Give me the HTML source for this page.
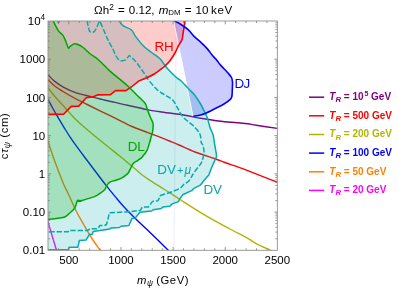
<!DOCTYPE html>
<html><head><meta charset="utf-8"><style>
html,body{margin:0;padding:0;background:#fff}
body{width:399px;height:288px;position:relative;overflow:hidden;font-family:"Liberation Sans",sans-serif;}
</style></head><body>
<svg width="399" height="288" viewBox="0 0 399 288" style="position:absolute;left:0;top:0">
<defs><clipPath id="c"><rect x="48.00" y="21.00" width="229.35" height="229.30"/></clipPath></defs>
<g clip-path="url(#c)" fill="none" stroke-linejoin="round" stroke-linecap="butt">
<line x1="176.2" y1="21.00" x2="173.9" y2="250.30" stroke="#a0a0dc" stroke-opacity="0.16" stroke-width="1.3"/>
<path d="M47.50 74.30 C48.65 75.43 51.69 78.93 54.40 81.10 C57.11 83.27 60.11 85.35 63.75 87.30 C67.39 89.25 71.56 91.20 76.25 92.80 C80.94 94.40 87.11 95.67 91.90 96.90 C96.69 98.13 101.15 99.28 105.00 100.20 C108.85 101.12 111.25 101.55 115.00 102.40 C118.75 103.25 123.33 104.37 127.50 105.30 C131.67 106.23 136.77 107.28 140.00 108.00 C143.23 108.72 143.57 108.98 146.90 109.60 C150.23 110.22 153.65 110.75 160.00 111.70 C166.35 112.65 178.23 114.20 185.00 115.30 C191.77 116.40 195.39 117.40 200.60 118.30 C205.81 119.20 211.03 120.03 216.25 120.70 C221.47 121.37 227.06 121.83 231.90 122.30 C236.74 122.77 241.24 123.02 245.30 123.50 C249.36 123.98 250.92 124.38 256.25 125.20 C261.58 126.02 273.79 127.87 277.30 128.40" stroke="#800080" stroke-width="1.4"/>
<path d="M47.50 79.30 C48.65 80.38 51.69 83.68 54.40 85.80 C57.11 87.92 60.11 89.80 63.75 92.00 C67.39 94.20 72.34 96.92 76.25 99.00 C80.16 101.08 83.24 102.53 87.20 104.50 C91.16 106.47 95.27 108.48 100.00 110.80 C104.73 113.12 110.39 115.83 115.60 118.40 C120.81 120.98 126.35 124.07 131.25 126.25 C136.15 128.43 141.61 130.21 145.00 131.50 C148.39 132.79 149.10 133.05 151.60 134.00 C154.10 134.95 156.93 135.99 160.00 137.20 C163.07 138.41 166.83 139.95 170.00 141.25 C173.17 142.55 174.83 143.21 179.00 145.00 C183.17 146.79 189.00 149.71 195.00 152.00 C201.00 154.29 210.00 157.00 215.00 158.75 C220.00 160.50 219.67 160.57 225.00 162.50 C230.33 164.43 238.28 167.00 247.00 170.30 C255.72 173.60 272.25 180.30 277.30 182.30" stroke="#ff0000" stroke-width="1.4"/>
<path d="M47.50 87.00 C48.65 88.50 51.95 93.08 54.40 96.00 C56.85 98.92 59.85 101.92 62.20 104.50 C64.55 107.08 66.37 109.13 68.50 111.50 C70.63 113.87 72.25 115.98 75.00 118.70 C77.75 121.42 81.25 124.53 85.00 127.80 C88.75 131.07 93.50 135.02 97.50 138.30 C101.50 141.58 105.25 144.50 109.00 147.50 C112.75 150.50 115.67 152.76 120.00 156.30 C124.33 159.84 131.30 165.63 135.00 168.75 C138.70 171.87 139.70 173.07 142.20 175.00 C144.70 176.93 147.03 178.35 150.00 180.30 C152.97 182.25 156.67 184.60 160.00 186.70 C163.33 188.80 166.67 190.77 170.00 192.90 C173.33 195.03 174.05 195.72 180.00 199.50 C185.95 203.28 197.37 210.68 205.70 215.60 C214.03 220.52 223.05 225.23 230.00 229.00 C236.95 232.77 242.73 235.60 247.40 238.20 C252.07 240.80 254.28 242.67 258.00 244.60 C261.72 246.53 267.37 248.73 269.70 249.80 C272.03 250.87 271.62 250.80 272.00 251.00" stroke="#b3b300" stroke-width="1.4"/>
<path d="M47.50 98.70 C48.08 99.75 49.54 102.38 51.00 105.00 C52.46 107.62 54.33 111.08 56.25 114.40 C58.17 117.72 60.94 122.30 62.50 124.90 C64.06 127.50 64.30 127.93 65.60 130.00 C66.90 132.07 68.70 134.90 70.30 137.30 C71.90 139.70 73.43 141.92 75.20 144.40 C76.97 146.88 79.03 149.68 80.90 152.20 C82.77 154.72 84.57 157.08 86.40 159.50 C88.23 161.92 88.72 162.52 91.90 166.70 C95.08 170.88 101.55 179.53 105.50 184.60 C109.45 189.67 112.50 193.37 115.60 197.10 C118.70 200.83 120.85 203.48 124.10 207.00 C127.35 210.52 130.47 213.65 135.10 218.20 C139.73 222.75 146.42 229.00 151.90 234.30 C157.38 239.60 164.98 247.05 168.00 250.00 C171.02 252.95 169.67 251.67 170.00 252.00" stroke="#0000ff" stroke-width="1.4"/>
<path d="M47.50 139.60 C48.08 141.42 49.85 147.05 51.00 150.50 C52.15 153.95 53.07 156.63 54.40 160.30 C55.73 163.97 57.44 168.47 59.00 172.50 C60.56 176.53 62.18 180.92 63.75 184.50 C65.32 188.08 66.32 189.54 68.40 194.00 C70.48 198.46 73.65 206.08 76.25 211.25 C78.85 216.42 81.38 220.46 84.00 225.00 C86.62 229.54 89.33 234.30 92.00 238.50 C94.67 242.70 98.50 248.00 100.00 250.20 C101.50 252.40 100.83 251.45 101.00 251.70" stroke="#ff8000" stroke-width="1.4"/>
<path d="M47.50 220.50 C49.00 225.45 55.00 245.25 56.50 250.20" stroke="#ff00ff" stroke-width="1.4"/>
<path d="M118.75 20.50 C119.53 21.40 121.32 24.35 123.40 25.90 C125.48 27.45 129.17 27.97 131.25 29.80 C133.33 31.63 133.82 34.16 135.90 36.90 C137.98 39.64 141.13 43.65 143.75 46.25 C146.37 48.85 148.89 50.42 151.60 52.50 C154.31 54.58 157.97 56.88 160.00 58.75 C162.03 60.62 162.53 62.08 163.80 63.75 C165.07 65.42 165.50 66.46 167.60 68.75 C169.70 71.04 174.33 75.62 176.40 77.50 C178.47 79.38 178.36 78.54 180.00 80.00 C181.64 81.46 184.63 84.58 186.25 86.25 C187.87 87.92 188.34 88.59 189.70 90.00 C191.06 91.41 192.58 92.37 194.40 94.70 C196.22 97.03 198.78 100.88 200.60 104.00 C202.42 107.12 204.12 110.90 205.30 113.40 C206.48 115.90 206.92 116.65 207.70 119.00 C208.48 121.35 209.10 124.83 210.00 127.50 C210.90 130.17 212.31 132.08 213.10 135.00 C213.89 137.92 214.27 142.17 214.75 145.00 C215.23 147.83 215.71 150.12 216.00 152.00 C216.29 153.88 216.67 154.92 216.50 156.25 C216.33 157.58 215.62 158.54 215.00 160.00 C214.38 161.46 213.50 163.25 212.75 165.00 C212.00 166.75 211.14 168.83 210.50 170.50 C209.86 172.17 209.17 174.25 208.90 175.00 L207.30 176.60 L203.40 181.25 L200.30 185.20 L194.00 188.30 L191.70 190.60 L183.10 194.50 L180.00 198.40 L178.40 201.60 L172.20 203.90 L169.80 206.25 L162.80 207.00 L161.25 208.60 L155.00 209.40 L153.90 209.40 L151.60 211.00 L139.80 212.20 L135.20 218.10 L132.00 218.40 L128.90 225.50 L121.10 226.25 L119.50 227.50 L110.90 228.10 L109.40 229.10 L105.00 229.80 L99.70 230.60 L93.40 231.40 L92.00 234.50 L89.50 234.50 L86.00 240.00 L79.40 240.50 L77.80 247.30 L69.20 247.30 L68.40 249.70 L47.50 249.70 L46.00 252.30 L46.00 19.00 Z" fill="rgba(0,170,170,0.2)"/>
<path d="M47.50 114.40 L63.60 114.30 L71.25 106.40 L78.75 106.10 L86.25 97.80 L93.75 96.60 L97.50 94.90 L110.20 94.80 L115.60 90.60 L125.80 90.60 L131.25 87.00 L139.00 80.80  C140.32 80.28 144.28 78.88 146.90 77.70 C149.52 76.53 152.52 75.07 154.70 73.75 C156.88 72.43 158.28 71.09 160.00 69.80 C161.72 68.51 163.25 67.63 165.00 66.00 C166.75 64.37 168.80 62.25 170.50 60.00 C172.20 57.75 173.78 55.05 175.20 52.50 C176.62 49.95 177.88 46.78 179.00 44.70 C180.12 42.62 181.23 41.83 181.90 40.00 C182.57 38.17 182.48 36.88 183.00 33.75 C183.52 30.62 184.65 23.54 185.00 21.25 C185.35 18.96 185.08 20.21 185.10 20.00 L185.00 19.00 L46.00 19.00 Z" fill="rgba(255,0,0,0.2)"/>
<path d="M53.00 20.50 C53.88 22.18 56.63 28.13 58.30 30.60 C59.97 33.07 61.72 33.40 63.00 35.30 C64.28 37.20 65.10 39.87 66.00 42.00 C66.90 44.13 67.73 47.35 68.40 48.10 C69.07 48.85 69.08 47.20 70.00 46.50 C70.92 45.80 72.73 44.28 73.90 43.90 C75.07 43.52 75.57 43.68 77.00 44.20 C78.43 44.72 80.28 45.37 82.50 47.00 C84.72 48.63 87.70 51.92 90.30 54.00 C92.90 56.08 94.92 56.73 98.10 59.50 C101.28 62.27 105.96 67.45 109.40 70.60 C112.84 73.75 115.63 75.79 118.75 78.40 C121.87 81.01 125.11 83.48 128.10 86.25 C131.09 89.02 134.63 92.96 136.70 95.00 C138.77 97.04 139.07 97.07 140.50 98.50 C141.93 99.93 144.10 101.58 145.30 103.60 C146.50 105.62 146.83 108.28 147.70 110.60 C148.57 112.92 149.60 115.27 150.50 117.50 C151.40 119.73 152.77 121.58 153.10 124.00 C153.43 126.42 152.88 129.67 152.50 132.00 C152.12 134.33 151.22 136.46 150.80 138.00 C150.38 139.54 150.65 139.15 150.00 141.25 C149.35 143.35 148.20 147.99 146.90 150.60 C145.60 153.21 143.68 155.28 142.20 156.90 C140.72 158.52 139.43 159.27 138.00 160.30 C136.57 161.33 134.85 161.72 133.60 163.10 C132.35 164.48 131.42 166.90 130.50 168.60 C129.58 170.30 129.02 172.10 128.10 173.30 C127.18 174.50 126.03 175.03 125.00 175.80 C123.97 176.57 122.94 177.32 121.90 177.90 C120.86 178.48 119.93 178.87 118.75 179.30 C117.57 179.73 116.11 180.12 114.80 180.50 C113.49 180.88 111.95 181.15 110.90 181.60 C109.85 182.05 109.32 182.30 108.50 183.20 C107.68 184.10 106.63 185.90 106.00 187.00 C105.37 188.10 105.70 188.73 104.70 189.80 C103.70 190.87 101.62 192.30 100.00 193.40 C98.38 194.50 97.92 195.25 95.00 196.40 C92.08 197.55 84.83 199.48 82.50 200.30 C80.17 201.12 81.37 201.28 81.00 201.30 C80.63 201.32 80.52 200.37 80.30 200.40 C80.08 200.43 79.92 201.52 79.70 201.50 C79.48 201.48 79.22 200.30 79.00 200.30 C78.78 200.30 78.60 201.52 78.40 201.50 C78.20 201.48 78.03 200.23 77.80 200.20 C77.57 200.17 77.52 199.98 77.00 201.30 C76.48 202.62 75.87 206.18 74.70 208.10 C73.53 210.02 71.57 211.37 70.00 212.80 C68.43 214.23 67.38 215.78 65.30 216.70 C63.22 217.62 60.47 217.83 57.50 218.30 C54.53 218.77 49.17 219.30 47.50 219.50 L46.00 219.50 L46.00 19.00 Z" fill="rgba(0,170,0,0.2)"/>
<path d="M173.80 20.50 C175.00 21.17 178.57 22.95 181.00 24.50 C183.43 26.05 186.25 27.87 188.40 29.80 C190.55 31.73 191.82 34.02 193.90 36.10 C195.98 38.18 198.68 40.22 200.90 42.30 C203.12 44.38 205.37 46.52 207.20 48.60 C209.03 50.68 210.33 52.90 211.90 54.80 C213.47 56.70 215.25 58.38 216.60 60.00 C217.95 61.62 218.81 63.08 220.00 64.50 C221.19 65.92 222.42 67.08 223.75 68.50 C225.08 69.92 226.71 71.50 228.00 73.00 C229.29 74.50 230.75 76.00 231.50 77.50 C232.25 79.00 232.37 79.92 232.50 82.00 C232.63 84.08 232.40 87.62 232.30 90.00 C232.20 92.38 232.23 94.68 231.90 96.25 C231.57 97.82 231.62 98.11 230.30 99.40 C228.98 100.69 226.34 102.57 224.00 104.00 C221.66 105.43 219.10 106.55 216.25 108.00 C213.40 109.45 209.51 111.53 206.90 112.70 C204.29 113.87 202.87 114.41 200.60 115.00 C198.33 115.59 194.52 116.04 193.30 116.25 Z" fill="rgba(0,0,255,0.2)"/>
<line x1="173.5" y1="20.5" x2="193.0" y2="116.25" stroke="#fff" stroke-width="0.8" stroke-opacity="0.9"/>
<path d="M118.75 20.50 C119.53 21.40 121.32 24.35 123.40 25.90 C125.48 27.45 129.17 27.97 131.25 29.80 C133.33 31.63 133.82 34.16 135.90 36.90 C137.98 39.64 141.13 43.65 143.75 46.25 C146.37 48.85 148.89 50.42 151.60 52.50 C154.31 54.58 157.97 56.88 160.00 58.75 C162.03 60.62 162.53 62.08 163.80 63.75 C165.07 65.42 165.50 66.46 167.60 68.75 C169.70 71.04 174.33 75.62 176.40 77.50 C178.47 79.38 178.36 78.54 180.00 80.00 C181.64 81.46 184.63 84.58 186.25 86.25 C187.87 87.92 188.34 88.59 189.70 90.00 C191.06 91.41 192.58 92.37 194.40 94.70 C196.22 97.03 198.78 100.88 200.60 104.00 C202.42 107.12 204.12 110.90 205.30 113.40 C206.48 115.90 206.92 116.65 207.70 119.00 C208.48 121.35 209.10 124.83 210.00 127.50 C210.90 130.17 212.31 132.08 213.10 135.00 C213.89 137.92 214.27 142.17 214.75 145.00 C215.23 147.83 215.71 150.12 216.00 152.00 C216.29 153.88 216.67 154.92 216.50 156.25 C216.33 157.58 215.62 158.54 215.00 160.00 C214.38 161.46 213.50 163.25 212.75 165.00 C212.00 166.75 211.14 168.83 210.50 170.50 C209.86 172.17 209.17 174.25 208.90 175.00 L207.30 176.60 L203.40 181.25 L200.30 185.20 L194.00 188.30 L191.70 190.60 L183.10 194.50 L180.00 198.40 L178.40 201.60 L172.20 203.90 L169.80 206.25 L162.80 207.00 L161.25 208.60 L155.00 209.40 L153.90 209.40 L151.60 211.00 L139.80 212.20 L135.20 218.10 L132.00 218.40 L128.90 225.50 L121.10 226.25 L119.50 227.50 L110.90 228.10 L109.40 229.10 L105.00 229.80 L99.70 230.60 L93.40 231.40 L92.00 234.50 L89.50 234.50 L86.00 240.00 L79.40 240.50 L77.80 247.30 L69.20 247.30 L68.40 249.70 L47.50 249.70" stroke="#07aaaa" stroke-width="1.5"/>
<path d="M87.00 20.50 C87.38 22.17 88.58 28.58 89.25 30.50 C89.92 32.42 90.25 31.75 91.00 32.00 C91.75 32.25 92.92 32.50 93.75 32.00 C94.58 31.50 95.04 30.75 96.00 29.00 C96.96 27.25 98.68 22.40 99.50 21.50 C100.32 20.60 99.93 21.55 100.90 23.60 C101.87 25.65 103.97 30.75 105.30 33.80 C106.63 36.85 107.68 39.47 108.90 41.90 C110.12 44.33 111.50 46.22 112.60 48.40 C113.70 50.58 114.53 53.17 115.50 55.00 C116.47 56.83 117.43 58.43 118.40 59.40 C119.37 60.37 120.20 60.68 121.30 60.80 C122.40 60.92 123.88 60.70 125.00 60.10 C126.12 59.50 127.25 57.93 128.00 57.20 C128.75 56.47 128.54 55.32 129.50 55.70 C130.46 56.08 132.42 58.16 133.75 59.50 C135.08 60.84 135.42 60.96 137.50 63.75 C139.58 66.54 144.25 73.33 146.25 76.25 C148.25 79.17 147.62 78.96 149.50 81.25 C151.38 83.54 154.92 87.71 157.50 90.00 C160.08 92.29 162.48 93.33 165.00 95.00 C167.52 96.67 170.60 98.00 172.60 100.00 C174.60 102.00 175.77 104.92 177.00 107.00 C178.23 109.08 178.67 110.50 180.00 112.50 C181.33 114.50 182.87 116.88 185.00 119.00 C187.13 121.12 190.33 122.74 192.80 125.20 C195.27 127.66 198.39 130.87 199.80 133.75 C201.21 136.63 200.76 140.62 201.25 142.50 C201.74 144.38 202.29 143.33 202.75 145.00 C203.21 146.67 204.21 149.58 204.00 152.50 C203.79 155.42 202.67 159.83 201.50 162.50 C200.33 165.17 198.50 166.42 197.00 168.50 C195.50 170.58 193.38 173.65 192.50 175.00 C191.62 176.35 192.35 175.56 191.70 176.60 C191.05 177.64 189.90 179.95 188.60 181.25 C187.30 182.55 185.33 183.22 183.90 184.40 C182.47 185.58 182.22 187.00 180.00 188.30 C177.78 189.60 173.72 191.03 170.60 192.20 C167.47 193.37 163.02 194.52 161.25 195.30 C159.48 196.08 160.21 196.63 160.00 196.90 L157.80 200.80 L152.30 201.60 L148.40 207.00 L142.20 207.00 L140.60 210.20 L129.70 211.70 L109.40 212.80 L107.80 220.00 L106.50 224.50 L105.00 225.20 L99.70 225.60 L98.10 228.75 L90.30 228.75 L87.20 230.60 L68.60 230.60 L68.40 231.70 L47.50 231.70" stroke="#07aaaa" stroke-width="1.5" stroke-dasharray="5.4 1.9"/>
<path d="M57 19 L58.5 23 L60 19" stroke="#07aaaa" stroke-width="1.5"/>
<path d="M47.50 114.40 L63.60 114.30 L71.25 106.40 L78.75 106.10 L86.25 97.80 L93.75 96.60 L97.50 94.90 L110.20 94.80 L115.60 90.60 L125.80 90.60 L131.25 87.00 L139.00 80.80  C140.32 80.28 144.28 78.88 146.90 77.70 C149.52 76.53 152.52 75.07 154.70 73.75 C156.88 72.43 158.28 71.09 160.00 69.80 C161.72 68.51 163.25 67.63 165.00 66.00 C166.75 64.37 168.80 62.25 170.50 60.00 C172.20 57.75 173.78 55.05 175.20 52.50 C176.62 49.95 177.88 46.78 179.00 44.70 C180.12 42.62 181.23 41.83 181.90 40.00 C182.57 38.17 182.48 36.88 183.00 33.75 C183.52 30.62 184.65 23.54 185.00 21.25 C185.35 18.96 185.08 20.21 185.10 20.00" stroke="#ff0000" stroke-width="1.6"/>
<path d="M53.00 20.50 C53.88 22.18 56.63 28.13 58.30 30.60 C59.97 33.07 61.72 33.40 63.00 35.30 C64.28 37.20 65.10 39.87 66.00 42.00 C66.90 44.13 67.73 47.35 68.40 48.10 C69.07 48.85 69.08 47.20 70.00 46.50 C70.92 45.80 72.73 44.28 73.90 43.90 C75.07 43.52 75.57 43.68 77.00 44.20 C78.43 44.72 80.28 45.37 82.50 47.00 C84.72 48.63 87.70 51.92 90.30 54.00 C92.90 56.08 94.92 56.73 98.10 59.50 C101.28 62.27 105.96 67.45 109.40 70.60 C112.84 73.75 115.63 75.79 118.75 78.40 C121.87 81.01 125.11 83.48 128.10 86.25 C131.09 89.02 134.63 92.96 136.70 95.00 C138.77 97.04 139.07 97.07 140.50 98.50 C141.93 99.93 144.10 101.58 145.30 103.60 C146.50 105.62 146.83 108.28 147.70 110.60 C148.57 112.92 149.60 115.27 150.50 117.50 C151.40 119.73 152.77 121.58 153.10 124.00 C153.43 126.42 152.88 129.67 152.50 132.00 C152.12 134.33 151.22 136.46 150.80 138.00 C150.38 139.54 150.65 139.15 150.00 141.25 C149.35 143.35 148.20 147.99 146.90 150.60 C145.60 153.21 143.68 155.28 142.20 156.90 C140.72 158.52 139.43 159.27 138.00 160.30 C136.57 161.33 134.85 161.72 133.60 163.10 C132.35 164.48 131.42 166.90 130.50 168.60 C129.58 170.30 129.02 172.10 128.10 173.30 C127.18 174.50 126.03 175.03 125.00 175.80 C123.97 176.57 122.94 177.32 121.90 177.90 C120.86 178.48 119.93 178.87 118.75 179.30 C117.57 179.73 116.11 180.12 114.80 180.50 C113.49 180.88 111.95 181.15 110.90 181.60 C109.85 182.05 109.32 182.30 108.50 183.20 C107.68 184.10 106.63 185.90 106.00 187.00 C105.37 188.10 105.70 188.73 104.70 189.80 C103.70 190.87 101.62 192.30 100.00 193.40 C98.38 194.50 97.92 195.25 95.00 196.40 C92.08 197.55 84.83 199.48 82.50 200.30 C80.17 201.12 81.37 201.28 81.00 201.30 C80.63 201.32 80.52 200.37 80.30 200.40 C80.08 200.43 79.92 201.52 79.70 201.50 C79.48 201.48 79.22 200.30 79.00 200.30 C78.78 200.30 78.60 201.52 78.40 201.50 C78.20 201.48 78.03 200.23 77.80 200.20 C77.57 200.17 77.52 199.98 77.00 201.30 C76.48 202.62 75.87 206.18 74.70 208.10 C73.53 210.02 71.57 211.37 70.00 212.80 C68.43 214.23 67.38 215.78 65.30 216.70 C63.22 217.62 60.47 217.83 57.50 218.30 C54.53 218.77 49.17 219.30 47.50 219.50" stroke="#00a600" stroke-width="1.5"/>
<path d="M173.80 20.50 C175.00 21.17 178.57 22.95 181.00 24.50 C183.43 26.05 186.25 27.87 188.40 29.80 C190.55 31.73 191.82 34.02 193.90 36.10 C195.98 38.18 198.68 40.22 200.90 42.30 C203.12 44.38 205.37 46.52 207.20 48.60 C209.03 50.68 210.33 52.90 211.90 54.80 C213.47 56.70 215.25 58.38 216.60 60.00 C217.95 61.62 218.81 63.08 220.00 64.50 C221.19 65.92 222.42 67.08 223.75 68.50 C225.08 69.92 226.71 71.50 228.00 73.00 C229.29 74.50 230.75 76.00 231.50 77.50 C232.25 79.00 232.37 79.92 232.50 82.00 C232.63 84.08 232.40 87.62 232.30 90.00 C232.20 92.38 232.23 94.68 231.90 96.25 C231.57 97.82 231.62 98.11 230.30 99.40 C228.98 100.69 226.34 102.57 224.00 104.00 C221.66 105.43 219.10 106.55 216.25 108.00 C213.40 109.45 209.51 111.53 206.90 112.70 C204.29 113.87 202.87 114.41 200.60 115.00 C198.33 115.59 194.52 116.04 193.30 116.25" stroke="#0000ff" stroke-width="1.6"/>
</g>
<path d="M58.43 250.30 v-2.00 M58.43 21.00 v2.00 M68.85 250.30 v-3.30 M68.85 21.00 v3.30 M79.28 250.30 v-2.00 M79.28 21.00 v2.00 M89.70 250.30 v-2.00 M89.70 21.00 v2.00 M100.12 250.30 v-2.00 M100.12 21.00 v2.00 M110.55 250.30 v-2.00 M110.55 21.00 v2.00 M120.98 250.30 v-3.30 M120.98 21.00 v3.30 M131.40 250.30 v-2.00 M131.40 21.00 v2.00 M141.83 250.30 v-2.00 M141.83 21.00 v2.00 M152.25 250.30 v-2.00 M152.25 21.00 v2.00 M162.68 250.30 v-2.00 M162.68 21.00 v2.00 M173.10 250.30 v-3.30 M173.10 21.00 v3.30 M183.53 250.30 v-2.00 M183.53 21.00 v2.00 M193.95 250.30 v-2.00 M193.95 21.00 v2.00 M204.38 250.30 v-2.00 M204.38 21.00 v2.00 M214.80 250.30 v-2.00 M214.80 21.00 v2.00 M225.23 250.30 v-3.30 M225.23 21.00 v3.30 M235.65 250.30 v-2.00 M235.65 21.00 v2.00 M246.08 250.30 v-2.00 M246.08 21.00 v2.00 M256.50 250.30 v-2.00 M256.50 21.00 v2.00 M266.93 250.30 v-2.00 M266.93 21.00 v2.00 M48.00 238.80 h1.90 M277.35 238.80 h-1.90 M48.00 232.07 h1.90 M277.35 232.07 h-1.90 M48.00 227.29 h1.90 M277.35 227.29 h-1.90 M48.00 223.59 h1.90 M277.35 223.59 h-1.90 M48.00 220.56 h1.90 M277.35 220.56 h-1.90 M48.00 218.00 h1.90 M277.35 218.00 h-1.90 M48.00 215.79 h1.90 M277.35 215.79 h-1.90 M48.00 213.83 h1.90 M277.35 213.83 h-1.90 M48.00 212.08 h3.00 M277.35 212.08 h-3.00 M48.00 200.58 h1.90 M277.35 200.58 h-1.90 M48.00 193.85 h1.90 M277.35 193.85 h-1.90 M48.00 189.07 h1.90 M277.35 189.07 h-1.90 M48.00 185.37 h1.90 M277.35 185.37 h-1.90 M48.00 182.34 h1.90 M277.35 182.34 h-1.90 M48.00 179.79 h1.90 M277.35 179.79 h-1.90 M48.00 177.57 h1.90 M277.35 177.57 h-1.90 M48.00 175.62 h1.90 M277.35 175.62 h-1.90 M48.00 173.87 h3.00 M277.35 173.87 h-3.00 M48.00 162.36 h1.90 M277.35 162.36 h-1.90 M48.00 155.63 h1.90 M277.35 155.63 h-1.90 M48.00 150.86 h1.90 M277.35 150.86 h-1.90 M48.00 147.15 h1.90 M277.35 147.15 h-1.90 M48.00 144.13 h1.90 M277.35 144.13 h-1.90 M48.00 141.57 h1.90 M277.35 141.57 h-1.90 M48.00 139.35 h1.90 M277.35 139.35 h-1.90 M48.00 137.40 h1.90 M277.35 137.40 h-1.90 M48.00 135.65 h3.00 M277.35 135.65 h-3.00 M48.00 124.15 h1.90 M277.35 124.15 h-1.90 M48.00 117.42 h1.90 M277.35 117.42 h-1.90 M48.00 112.64 h1.90 M277.35 112.64 h-1.90 M48.00 108.94 h1.90 M277.35 108.94 h-1.90 M48.00 105.91 h1.90 M277.35 105.91 h-1.90 M48.00 103.35 h1.90 M277.35 103.35 h-1.90 M48.00 101.14 h1.90 M277.35 101.14 h-1.90 M48.00 99.18 h1.90 M277.35 99.18 h-1.90 M48.00 97.43 h3.00 M277.35 97.43 h-3.00 M48.00 85.93 h1.90 M277.35 85.93 h-1.90 M48.00 79.20 h1.90 M277.35 79.20 h-1.90 M48.00 74.42 h1.90 M277.35 74.42 h-1.90 M48.00 70.72 h1.90 M277.35 70.72 h-1.90 M48.00 67.69 h1.90 M277.35 67.69 h-1.90 M48.00 65.14 h1.90 M277.35 65.14 h-1.90 M48.00 62.92 h1.90 M277.35 62.92 h-1.90 M48.00 60.97 h1.90 M277.35 60.97 h-1.90 M48.00 59.22 h3.00 M277.35 59.22 h-3.00 M48.00 47.71 h1.90 M277.35 47.71 h-1.90 M48.00 40.98 h1.90 M277.35 40.98 h-1.90 M48.00 36.21 h1.90 M277.35 36.21 h-1.90 M48.00 32.50 h1.90 M277.35 32.50 h-1.90 M48.00 29.48 h1.90 M277.35 29.48 h-1.90 M48.00 26.92 h1.90 M277.35 26.92 h-1.90 M48.00 24.70 h1.90 M277.35 24.70 h-1.90 M48.00 22.75 h1.90 M277.35 22.75 h-1.90" stroke="#7c7c7c" stroke-width="0.8" fill="none"/>
<rect x="48.00" y="21.00" width="229.35" height="229.30" fill="none" stroke="#909090" stroke-width="0.9"/>
<line x1="309" y1="97.20" x2="324.2" y2="97.20" stroke="#800080" stroke-width="1.5"/>
<line x1="309" y1="115.80" x2="324.2" y2="115.80" stroke="#ff0000" stroke-width="1.5"/>
<line x1="309" y1="134.50" x2="324.2" y2="134.50" stroke="#b3b300" stroke-width="1.5"/>
<line x1="309" y1="153.10" x2="324.2" y2="153.10" stroke="#0000ff" stroke-width="1.5"/>
<line x1="309" y1="171.80" x2="324.2" y2="171.80" stroke="#ff8000" stroke-width="1.5"/>
<line x1="309" y1="190.40" x2="324.2" y2="190.40" stroke="#ff00ff" stroke-width="1.5"/>
</svg>
<div style="position:absolute;left:0;top:0;width:399px;height:288px;will-change:transform"><div style="position:absolute;white-space:nowrap;line-height:1;font-size:11.6px;color:#000;word-spacing:0.9px;left:94.00px;top:3.78px;">&Omega;h<span style="font-size:72%;position:relative;top:-0.5em;line-height:0">2</span> = 0.12, <i>m</i><span style="font-size:68%;position:relative;top:0.2em;line-height:0">DM</span> = 10<span style="margin-left:-1.6px"> </span><span style="letter-spacing:0.55px">keV</span></div>
<div style="position:absolute;white-space:nowrap;line-height:1;font-size:11.5px;color:#000;right:353.80px;top:16.07px;">10<span style="font-size:72%;position:relative;top:-0.6em;line-height:0">4</span></div>
<div style="position:absolute;white-space:nowrap;line-height:1;font-size:11.5px;color:#000;right:353.80px;top:54.28px;">1000</div>
<div style="position:absolute;white-space:nowrap;line-height:1;font-size:11.5px;color:#000;right:353.80px;top:92.50px;">100</div>
<div style="position:absolute;white-space:nowrap;line-height:1;font-size:11.5px;color:#000;right:353.80px;top:130.72px;">10</div>
<div style="position:absolute;white-space:nowrap;line-height:1;font-size:11.5px;color:#000;right:353.80px;top:168.93px;">1</div>
<div style="position:absolute;white-space:nowrap;line-height:1;font-size:11.5px;color:#000;right:353.80px;top:207.15px;">0.10</div>
<div style="position:absolute;white-space:nowrap;line-height:1;font-size:11.5px;color:#000;right:353.80px;top:245.37px;">0.01</div>
<div style="position:absolute;white-space:nowrap;line-height:1;font-size:11.5px;color:#000;left:68.85px;transform:translateX(-50%);top:254.87px;">500</div>
<div style="position:absolute;white-space:nowrap;line-height:1;font-size:11.5px;color:#000;left:120.98px;transform:translateX(-50%);top:254.87px;">1000</div>
<div style="position:absolute;white-space:nowrap;line-height:1;font-size:11.5px;color:#000;left:173.10px;transform:translateX(-50%);top:254.87px;">1500</div>
<div style="position:absolute;white-space:nowrap;line-height:1;font-size:11.5px;color:#000;left:225.23px;transform:translateX(-50%);top:254.87px;">2000</div>
<div style="position:absolute;white-space:nowrap;line-height:1;font-size:11.5px;color:#000;left:277.35px;transform:translateX(-50%);top:254.87px;">2500</div>
<div style="position:absolute;white-space:nowrap;line-height:1;font-size:11.3px;color:#000;letter-spacing:0.5px;left:137.00px;top:274.93px;"><i>m</i><span style="margin-right:-0.7px"><span style="font-size:72%;position:relative;top:0.28em;line-height:0"><i>&psi;</i></span></span> (GeV)</div>
<div style="position:absolute;left:5.4px;top:135.65px;width:0;height:0"><div style="position:absolute;white-space:nowrap;line-height:1;font-size:11.3px;letter-spacing:0.6px;transform:translate(-50%,-50%) rotate(-90deg);">c<i>&tau;</i><span style="font-size:76%;position:relative;top:0.26em;line-height:0"><i>&psi;</i></span> (cm)</div></div>
<div style="position:absolute;white-space:nowrap;line-height:1;font-size:13.4px;color:#ff0000;left:154.40px;top:39.76px;">RH</div>
<div style="position:absolute;white-space:nowrap;line-height:1;font-size:13.4px;color:#0000ff;letter-spacing:-0.6px;left:234.50px;top:76.86px;">DJ</div>
<div style="position:absolute;white-space:nowrap;line-height:1;font-size:13.4px;color:#00a600;left:127.70px;top:139.66px;">DL</div>
<div style="position:absolute;white-space:nowrap;line-height:1;font-size:13.4px;color:#05a8aa;left:157.30px;top:162.96px;">DV<span style="font-size:11px;margin:0 1.2px 0 1.0px">+</span><i style="font-size:12px">&mu;</i></div>
<div style="position:absolute;white-space:nowrap;line-height:1;font-size:13.4px;color:#05a8aa;left:203.40px;top:182.66px;">DV</div>
<div style="position:absolute;white-space:nowrap;line-height:1;font-size:10px;color:#800080;font-weight:bold;left:329.30px;top:91.94px;"><i>T</i><span style="font-size:78%;position:relative;top:0.3em;line-height:0"><i>R</i></span> = 10<span style="margin-left:0.8px"></span><span style="font-size:70%;position:relative;top:-0.5em;line-height:0">5</span> GeV</div>
<div style="position:absolute;white-space:nowrap;line-height:1;font-size:10px;color:#ff0000;font-weight:bold;left:329.30px;top:110.53px;"><i>T</i><span style="font-size:78%;position:relative;top:0.3em;line-height:0"><i>R</i></span> = 500 GeV</div>
<div style="position:absolute;white-space:nowrap;line-height:1;font-size:10px;color:#b3b300;font-weight:bold;left:329.30px;top:129.23px;"><i>T</i><span style="font-size:78%;position:relative;top:0.3em;line-height:0"><i>R</i></span> = 200 GeV</div>
<div style="position:absolute;white-space:nowrap;line-height:1;font-size:10px;color:#0000ff;font-weight:bold;left:329.30px;top:147.83px;"><i>T</i><span style="font-size:78%;position:relative;top:0.3em;line-height:0"><i>R</i></span> = 100 GeV</div>
<div style="position:absolute;white-space:nowrap;line-height:1;font-size:10px;color:#ff8000;font-weight:bold;left:329.30px;top:166.53px;"><i>T</i><span style="font-size:78%;position:relative;top:0.3em;line-height:0"><i>R</i></span> = 50 GeV</div>
<div style="position:absolute;white-space:nowrap;line-height:1;font-size:10px;color:#ff00ff;font-weight:bold;left:329.30px;top:185.13px;"><i>T</i><span style="font-size:78%;position:relative;top:0.3em;line-height:0"><i>R</i></span> = 20 GeV</div></div>
</body></html>
